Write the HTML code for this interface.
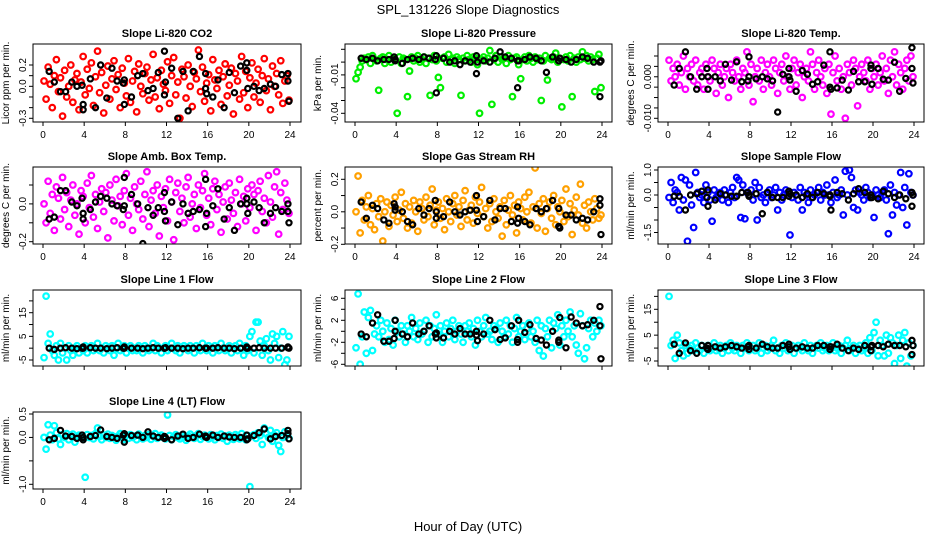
<!DOCTYPE html>
<html><head><meta charset="utf-8"><style>
html,body{margin:0;padding:0;background:#fff}
svg{display:block;font-family:"Liberation Sans",Arial,sans-serif}
</style></head><body>
<svg id="c" width="936" height="540" viewBox="0 0 936 540">
<rect width="936" height="540" fill="#fff"/>
<text x="468" y="14" font-size="13" text-anchor="middle">SPL_131226  Slope Diagnostics</text>
<text x="468" y="531" font-size="13" text-anchor="middle">Hour of Day (UTC)</text>
</svg>
<script>
const hourTicks=[0,4,8,12,16,20,24];
const blackHours=[0.6,1.1,1.7,2.2,2.8,3.3,3.8,3.9,3.9,4.6,5.1,5.6,6.2,6.7,7.2,7.8,7.9,7.9,8.6,9.2,9.7,10.2,10.7,11.2,11.8,11.8,11.9,12.5,13.1,13.6,14.1,14.6,15.2,15.8,15.8,15.9,16.5,17.0,17.6,18.1,18.6,19.2,19.8,19.8,19.9,20.5,21.0,21.5,22.1,22.6,23.2,23.8,23.8,23.9];
const colorStepHours=0.2;
const titles=["Slope Li-820 CO2","Slope Li-820 Pressure","Slope Li-820 Temp.","Slope Amb. Box Temp.","Slope Gas Stream RH","Slope Sample Flow","Slope Line 1 Flow","Slope Line 2 Flow","Slope Line 3 Flow","Slope Line 4 (LT) Flow"];
const yTitles=["Licor ppm per min.","kPa per min.","degrees C per min.","degrees C per min.","percent per min.","ml/min per min.","ml/min per min.","ml/min per min.","ml/min per min.","ml/min per min."];
const colors=["#ff0000","#00ee00","#ff00ff","#ff00ff","#ffa000","#0000ff","#00ffff","#00ffff","#00ffff","#00ffff"];
const yTicks=[[0.2,0.1,0,-0.1,-0.2,-0.3],[0.01,0,-0.01,-0.02,-0.03,-0.04],[0.005,0.0025,0,-0.0025,-0.005,-0.0075,-0.01],[0.1,0,-0.1,-0.2],[0.2,0.1,0,-0.1,-0.2],[1,0.5,0,-0.5,-1,-1.5],[20,15,10,5,0,-5],[6,4,2,0,-2,-4,-6],[20,15,10,5,0,-5],[0.5,0,-0.5,-1]];
const yTickLabels=[["0.2","","0.0","","","-0.3"],["","","-0.01","","","-0.04"],["","","0.000","","","","-0.010"],["","0.0","","-0.2"],["0.2","","0.0","","-0.2"],["1.0","","0.0","","","-1.5"],["","15","","5","","-5"],["6","","2","","-2","","-6"],["","15","","5","","-5"],["0.5","0.0","","-1.0"]];
const yDomains=[[0.2,-0.3],[0.01,-0.04],[0.005,-0.01],[0.1,-0.2],[0.2,-0.2],[1,-1.5],[15,-5],[6,-6],[15,-5],[0.5,-1]];
const colorValues=[
[0.05,-0.12,0.18,0.02,-0.2,0.1,0.25,-0.05,0.08,-0.28,0.15,-0.1,0.0,0.2,-0.15,0.06,0.12,-0.22,0.04,0.28,-0.08,0.16,-0.02,0.22,-0.18,0.09,0.33,-0.06,0.13,-0.25,0.01,0.19,-0.12,0.07,0.24,-0.03,0.11,-0.2,0.17,0.03,-0.09,0.26,-0.15,0.05,0.14,-0.24,0.21,0.0,-0.07,0.12,0.18,-0.13,0.06,0.3,-0.1,0.08,-0.21,0.15,0.02,-0.04,0.23,-0.16,0.1,0.27,-0.08,0.04,-0.3,0.16,0.09,-0.11,0.2,0.0,-0.19,0.13,0.07,0.34,-0.05,0.18,-0.14,0.03,0.11,-0.23,0.25,0.06,-0.02,0.15,-0.17,0.09,0.21,-0.09,0.01,0.17,-0.26,0.12,0.05,-0.12,0.28,-0.06,0.14,-0.2,0.08,0.22,-0.1,0.03,0.16,-0.15,0.1,0.26,-0.04,0.07,-0.22,0.19,0.0,0.12,-0.08,0.24,-0.16,0.05,0.1,-0.13],
[-0.013,-0.008,-0.004,0.001,0.003,0.002,0.004,-0.001,0.005,0.002,0.001,-0.022,0.003,0.004,-0.001,0.002,0.005,0.000,0.003,0.002,-0.040,0.004,-0.001,0.003,0.002,-0.027,-0.007,0.004,0.001,0.003,0.005,0.000,0.002,0.004,-0.001,0.003,-0.026,0.002,0.005,0.001,-0.012,-0.020,0.003,0.004,0.000,0.006,0.002,0.003,-0.001,0.004,0.002,-0.026,0.003,0.001,0.005,0.002,0.000,0.004,0.003,-0.002,-0.040,0.002,0.004,0.001,0.003,0.009,-0.033,0.002,0.005,0.000,0.004,0.002,0.003,-0.001,0.005,0.002,-0.027,0.003,0.004,-0.002,-0.013,0.002,0.004,0.001,0.005,0.003,0.000,0.004,0.002,0.003,-0.030,0.001,0.005,-0.014,0.003,0.002,0.004,0.007,0.000,0.003,-0.035,0.002,0.004,0.001,0.005,-0.027,0.003,0.000,0.004,0.002,0.008,0.003,0.005,0.001,0.004,0.002,-0.023,0.003,0.006,-0.020],
[0.004,-0.001,0.002,0.000,0.003,-0.002,0.001,0.005,-0.003,0.002,0.000,0.003,-0.001,0.004,-0.002,0.001,0.002,-0.003,0.003,0.000,-0.001,0.004,0.002,-0.004,0.001,0.003,-0.002,0.000,0.002,-0.005,0.003,0.001,-0.001,0.004,0.000,-0.003,0.002,0.001,0.006,-0.002,0.003,-0.006,0.000,0.002,-0.001,0.004,-0.003,0.001,0.003,0.000,-0.002,0.004,0.002,-0.004,0.001,0.003,-0.001,0.005,0.000,-0.003,0.002,0.004,-0.002,0.001,0.003,-0.005,0.000,0.002,-0.001,0.006,0.003,-0.003,0.001,0.004,0.000,-0.002,0.002,-0.004,0.003,-0.009,0.001,0.005,-0.001,0.002,-0.003,0.000,-0.010,0.003,0.001,-0.002,0.004,0.002,-0.007,0.000,0.003,0.001,-0.001,0.004,-0.003,0.002,0.000,0.003,-0.002,0.001,0.005,-0.001,0.002,-0.004,0.004,0.000,0.006,-0.002,0.003,0.001,-0.003,0.002,0.004,-0.001,0.005,0.000],
[0.0,-0.1,0.12,-0.05,0.05,-0.14,0.09,0.03,-0.08,0.14,-0.03,0.06,-0.12,0.02,0.1,-0.06,0.0,-0.16,0.07,0.04,-0.1,0.11,-0.02,0.15,-0.07,0.05,-0.13,0.01,0.08,-0.04,0.06,-0.18,0.1,0.02,-0.09,0.13,-0.01,0.04,-0.11,0.07,0.16,-0.06,0.03,-0.14,0.09,0.0,-0.03,0.12,-0.08,0.05,0.17,-0.12,0.02,0.07,-0.05,0.1,-0.17,0.04,-0.02,0.08,-0.09,0.13,0.01,-0.19,0.06,0.11,-0.04,0.03,-0.1,0.09,0.14,-0.07,0.0,0.05,-0.13,0.1,-0.02,0.07,0.16,-0.06,0.03,-0.11,0.08,0.12,-0.03,0.05,-0.15,0.01,0.09,-0.08,0.11,0.02,-0.05,0.06,-0.12,0.13,0.0,0.04,-0.09,0.08,-0.02,0.1,0.05,-0.14,0.07,0.12,-0.04,0.03,-0.1,0.15,0.01,-0.07,0.09,0.17,-0.16,0.06,-0.03,0.11,0.02,-0.05],
[0.0,0.22,-0.13,0.07,-0.05,0.03,0.1,-0.08,0.02,-0.11,0.05,-0.03,0.08,-0.18,0.0,0.06,-0.09,0.04,-0.02,0.09,-0.06,0.01,0.12,-0.04,0.05,-0.1,0.03,-0.07,0.07,0.0,-0.12,0.06,0.02,-0.05,0.09,-0.03,0.04,0.14,-0.08,0.01,0.06,-0.04,0.02,-0.11,0.08,0.0,-0.06,0.05,0.1,-0.02,0.03,-0.09,0.07,0.13,-0.05,0.01,0.04,-0.07,0.09,-0.01,0.06,0.15,-0.03,0.02,-0.1,0.05,-0.06,0.08,0.0,-0.04,0.03,-0.15,0.07,-0.08,0.01,0.1,-0.02,0.04,-0.13,0.06,0.02,-0.05,0.09,0.0,0.12,-0.07,0.03,0.27,-0.1,0.05,-0.01,0.08,-0.12,0.02,0.06,-0.04,0.1,-0.08,0.03,0.0,0.07,-0.06,0.14,-0.03,0.05,-0.14,0.01,0.09,-0.02,0.17,-0.07,0.04,-0.1,0.06,0.0,-0.05,0.08,0.02,-0.04,-0.02],
[-0.1,0.5,-0.3,0.2,0.1,-0.6,0.7,-0.2,0.6,-1.85,0.4,-0.4,-1.3,0.9,0.1,-0.1,0.0,-0.3,0.4,0.1,-0.2,-1.05,0.2,-0.1,0.0,0.1,-0.2,0.2,0.0,-0.3,0.1,0.3,-0.1,0.7,0.6,-0.9,0.4,-0.95,0.1,0.0,0.2,-0.2,0.5,-1.0,0.3,-0.1,0.0,-0.3,0.1,0.2,-0.1,0.0,0.3,-0.6,0.1,-0.2,0.0,0.2,0.1,-1.6,-0.1,0.1,0.0,-0.2,0.3,-0.6,0.1,0.0,-0.3,0.2,-0.1,0.0,0.1,0.3,-0.2,0.1,0.0,0.4,0.0,-0.3,0.1,0.6,-0.1,0.0,0.2,-0.8,0.95,0.0,1.0,0.7,-0.5,0.2,-0.6,0.1,0.0,-0.2,0.3,0.1,-0.1,0.0,-0.9,0.2,0.0,-0.1,0.1,0.2,-0.2,-1.55,0.4,-0.8,0.1,-0.4,0.0,0.9,-0.5,0.3,-1.2,0.85,0.1,0.0],
[-4,22,2,6,-1,-3,1,-5,2,-2,0,-5,1,-1,-3,0,1,-2,0,-1,1,-2,0,1,-1,0,2,-1,0,-2,1,0,-1,1,-3,0,2,-1,0,1,-2,0,1,-1,0,-1,1,0,-2,1,0,-1,0,2,-1,1,0,-2,0,1,-1,0,2,0,-1,1,-2,0,1,0,-1,1,0,-2,1,0,-1,2,0,-1,1,0,-2,1,0,-1,2,0,-1,0,1,-2,0,1,-1,2,0,-3,1,-1,5,7,-2,11,11,3,-3,1,4,-1,-5,6,2,5,-4,0,7,-7,-5,5],
[-3,6.8,-6,-1,3.5,-4,2.5,3.8,-3.5,-0.5,1,-1,2,0,-2,1.5,-1.5,0.5,-2.5,2,0,-1,1,-0.5,-2,1,0,2.5,-1,0.5,-1.5,1.5,-0.5,0,2,-2,1,-1,0.5,3,-0.5,1,-2,0,1.5,-1,0.5,2,-1.5,0,1,-0.5,-2,1,0,1.5,-1,0.5,-2.5,2,0,-1,1,2.5,-0.5,0,-1.5,1,0.5,-2,1.5,0,-1,2,-0.5,1,-2,0.5,2.5,-1,0,1,-1.5,0.5,1.5,-1,0,-2,2,-3.5,1,-4.5,0.5,-1,2,-3,1.5,0.5,3,-2.5,1,-1,2,0,3.5,-1,1,-2.5,-4,3.2,1,-5,-3,0.5,2,-1,1.5,0,2,1],
[20,1,3,-4,5,2,-1,-3,1,-2,0,1,-1,2,0,-1,1,-2,0,1,-1,0,2,-1,0,1,-2,0,1,-1,2,0,-1,1,0,-2,1,0,2,-1,0,1,-1,0,2,-2,0,1,-1,0,1,3,-1,0,-2,1,0,2,-1,0,1,-2,0,1,0,-1,2,0,-1,1,-2,0,1,0,2,-1,0,1,-1,0,2,-1,0,1,-2,0,1,3,-1,0,1,-2,0,1,-1,0,2,-2,4,-1,6,10,-3,3,1,-3,5,-2,4,2,-6,1,5,-4,3,6,-7,2,-3,1],
[0.0,-0.25,0.27,0.05,-0.05,0.25,0.1,-0.03,-0.15,0.06,0.0,0.08,-0.05,0.03,0.07,-0.1,0.02,0.05,0.0,-0.04,-0.85,0.06,0.0,0.04,-0.03,0.08,0.2,0.02,-0.05,0.05,0.0,0.07,-0.02,0.04,0.01,-0.06,0.03,0.08,0.0,-0.04,0.05,-0.02,0.06,0.0,0.03,-0.05,0.07,0.02,-0.03,0.04,0.0,0.06,-0.04,0.03,0.08,-0.02,0.01,0.05,0.0,-0.03,0.48,0.04,-0.05,0.02,0.06,0.0,-0.03,0.05,0.01,-0.06,0.03,0.07,0.0,-0.02,0.04,0.08,-0.04,0.02,0.05,0.0,-0.03,0.06,0.01,-0.05,0.04,0.0,0.07,-0.02,0.03,-0.08,0.05,0.0,-0.04,0.06,0.02,-0.03,0.08,0.0,-0.05,0.04,-1.05,0.03,0.06,-0.02,0.1,0.04,-0.15,0.2,0.08,0.0,0.15,-0.08,0.05,0.1,-0.17,-0.3,0.0,0.12,0.05,-0.02]
];
const blackValues=[
[0.14,0.04,-0.05,-0.05,0.04,0.0,0.01,-0.17,-0.22,0.07,-0.2,0.2,-0.11,0.17,0.05,0.03,0.06,-0.17,-0.1,0.1,0.12,-0.04,-0.02,0.13,0.33,-0.08,0.04,0.17,-0.3,0.14,-0.23,0.14,0.28,0.12,-0.02,-0.07,-0.1,0.06,-0.2,0.13,-0.06,0.19,0.22,0.15,-0.02,0.0,-0.04,-0.02,0.02,0.0,0.11,0.12,0.05,-0.14],
[0.003,0.002,0.003,0.001,0.002,0.002,0.004,0.002,0.001,-0.001,0.002,0.003,0.002,0.004,0.003,0.002,0.005,-0.024,0.003,0.000,0.001,-0.002,0.001,0.000,0.005,-0.009,0.000,0.001,0.000,0.003,0.008,0.004,0.003,0.001,-0.020,0.001,0.002,0.004,0.003,0.001,-0.008,0.004,0.001,0.001,0.003,0.002,0.000,0.002,0.004,0.003,0.000,0.000,-0.027,0.001],
[-0.002,0.002,0.006,0.000,-0.003,0.000,0.002,0.000,-0.003,0.000,-0.001,0.003,-0.0008,0.0036,-0.0012,-0.001,0.0048,0.0,-0.0005,0.0,-0.0005,-0.001,-0.0085,0.0006,0.002,0.0,-0.0008,-0.0035,0.0015,0.0006,-0.0018,-0.0012,0.0028,0.006,-0.0025,-0.003,-0.0027,-0.0008,-0.0032,0.0013,-0.0012,-0.0012,0.002,0.0028,-0.0018,0.002,-0.0006,-0.0008,0.0035,-0.0035,-0.0004,0.007,0.002,-0.0015],
[-0.08,-0.07,0.07,0.07,0.01,-0.01,0.03,-0.08,-0.05,-0.03,0.01,0.04,0.03,0.0,-0.01,-0.03,0.14,-0.01,0.05,0.0,-0.21,-0.02,-0.06,-0.02,0.06,-0.04,-0.09,0.01,-0.11,0.0,-0.05,-0.04,-0.03,0.13,-0.12,-0.05,-0.01,0.08,-0.08,-0.02,-0.14,0.0,0.0,0.03,-0.05,0.01,-0.02,-0.1,-0.05,-0.02,-0.04,0.0,-0.04,-0.1],
[0.06,-0.04,0.04,0.02,-0.05,-0.07,0.05,0.03,0.01,0.0,-0.06,-0.08,0.02,-0.02,0.02,0.07,0.0,-0.04,-0.03,0.06,0.0,-0.02,0.0,0.01,0.1,0.01,-0.06,-0.03,0.07,-0.05,0.02,0.02,-0.06,0.03,-0.07,-0.04,-0.06,-0.08,0.02,0.0,0.02,0.07,0.02,-0.09,-0.1,-0.02,-0.02,-0.05,-0.04,-0.05,0.0,0.08,0.04,-0.14],
[-0.05,-0.05,-0.6,0.0,0.05,0.15,-0.1,0.2,-0.45,-0.2,0.05,0.0,-0.05,-0.05,0.1,0.1,-0.05,0.0,0.05,-0.75,0.1,-0.1,-0.1,-0.1,-0.05,0.15,0.05,0.0,-0.1,0.05,-0.1,0.1,0.05,-0.05,0.0,-0.6,0.1,0.05,-0.2,0.05,0.25,0.1,-0.1,0.0,-0.1,-0.15,0.15,0.05,-0.1,0.0,-0.15,0.1,-0.45,0.0],
[0,-0.5,0,0.2,0,-0.2,0,0.5,0,0.2,0,0,-0.2,0,0.2,0,0.5,0,0,0,-0.2,0,0.2,0,0,0,0.2,0,0,-0.2,0,0,0.2,0,0,0,0,0.2,0,0,-0.2,0,0,0.5,0,0,0.2,0,0,0,0,0.2,0.5,0],
[-0.5,-1,1.5,3,-1.8,-1.8,-1.3,2,0,-0.5,-1,1.5,-0.5,0,1,-0.5,-0.3,-1.2,-1.2,0,-0.5,0.5,-0.5,-0.5,0,-0.7,-1.7,-0.5,2,0.3,-1.5,-1.2,1,-1.5,-2,2,-0.2,1.2,-1.3,-1.6,-2.5,0,-1.6,-2,2.5,-3,2.6,1.5,1,1.2,2,1,4.5,-5],
[1.5,-2,2,-1,-2,1,0,1,-0.5,0.5,0,0.5,1,0.5,0,0.5,1,-0.5,0,1.5,0.5,0,0,1,1.5,0.5,-0.5,0,0.5,0,0,1,1,0.5,-0.5,0.5,1.5,0,-1,0,-0.5,1,0.5,-1,1,1,0.5,1.5,1,1,0.5,3,-2.5,1],
[-0.05,-0.02,0.15,0.03,0.02,-0.02,0.05,-0.05,0.0,0.02,0.04,0.16,0.02,0.0,-0.02,0.05,0.08,-0.1,0.04,0.05,0.0,0.12,0.03,0.0,0.02,-0.02,0.0,-0.05,0.03,0.07,-0.02,0.0,0.07,0.03,0.01,0.0,0.05,0.0,0.03,0.01,0.0,0.0,-0.05,0.05,-0.03,0.04,0.1,0.18,-0.03,0.02,0.04,0.15,0.08,-0.03]
];
const panelNames=["co2","pressure","li820-temp","amb-box-temp","gas-stream-rh","sample-flow","line1-flow","line2-flow","line3-flow","line4-flow"];
const colBox=[[33,301,43,290],[345,612,355,602],[658,924,668,914]];
const rowBox=[[44,122],[167,244],[290,366],[412,489]];
const yPix=[[65,118.3],[49.3,113.3],[56,118.3],[185,241.7],[179.3,244.3],[170,232.5],[312.7,360],[298.3,364.3],[309.3,361],[414,484.3]];

const NS="http://www.w3.org/2000/svg";
const svg=document.getElementById('c');
function mk(tag,attrs,parent){const e=document.createElementNS(NS,tag);for(const k in attrs)e.setAttribute(k,attrs[k]);(parent||svg).appendChild(e);return e;}

for(let p=0;p<10;p++){
  const col=p%3,row=Math.floor(p/3);
  const [bl,br,x0,x24]=colBox[col];const [bt,bb]=rowBox[row];
  const xs=h=>x0+(h/24)*(x24-x0);
  const [d0,d1]=yDomains[p];const [p0,p1]=yPix[p];
  const ys=v=>p0+(v-d0)/(d1-d0)*(p1-p0);
  const g=mk('g',{});
  
  
  const clipId='clip'+p;
  const cp=mk('clipPath',{id:clipId},g);mk('rect',{x:bl,y:bt,width:br-bl,height:bb-bt},cp);
  const t=mk('text',{x:(bl+br)/2,y:bt-7,'font-size':11,'font-weight':'bold','text-anchor':'middle'},g);
  t.textContent=titles[p];
  
  
  const yt=mk('text',{x:0,y:0,'font-size':10,'text-anchor':'middle',transform:`translate(${bl-24},${(bt+bb)/2}) rotate(-90)`},g);
  yt.textContent=yTitles[p];
  
  
  const pts=mk('g',{'clip-path':`url(#${clipId})`,fill:'none','stroke-width':2.2},g);
  
  
  colorValues[p].forEach((v,i)=>{
    const c=mk('circle',{cx:xs(i*colorStepHours+0.1),cy:ys(v),r:2.8,stroke:colors[p]},pts);
    
    
  });
  blackValues[p].forEach((v,i)=>{
    const c=mk('circle',{cx:xs(blackHours[i]),cy:ys(v),r:2.6,stroke:'#000'},pts);
    
    
  });
  const box=mk('rect',{x:bl,y:bt,width:br-bl,height:bb-bt,fill:'none',stroke:'#000','stroke-width':1},g);
  
  
  yTicks[p].forEach((v,i)=>{
    const y=ys(v);
    mk('line',{x1:bl-4,x2:bl,y1:y,y2:y,stroke:'#000'},g);
    if(yTickLabels[p][i]){
      const l=mk('text',{x:0,y:0,'font-size':10,'text-anchor':'middle',transform:`translate(${bl-7},${y}) rotate(-90)`},g);
      l.textContent=yTickLabels[p][i];
      
      
    }
  });
  hourTicks.forEach(h=>{
    const x=xs(h);
    mk('line',{x1:x,x2:x,y1:bb,y2:bb+4,stroke:'#000'},g);
    if(row!==2){
      const l=mk('text',{x:x,y:bb+16,'font-size':10,'text-anchor':'middle'},g);
      l.textContent=String(h);
      
      
    }
  });
}
</script>
</body></html>
